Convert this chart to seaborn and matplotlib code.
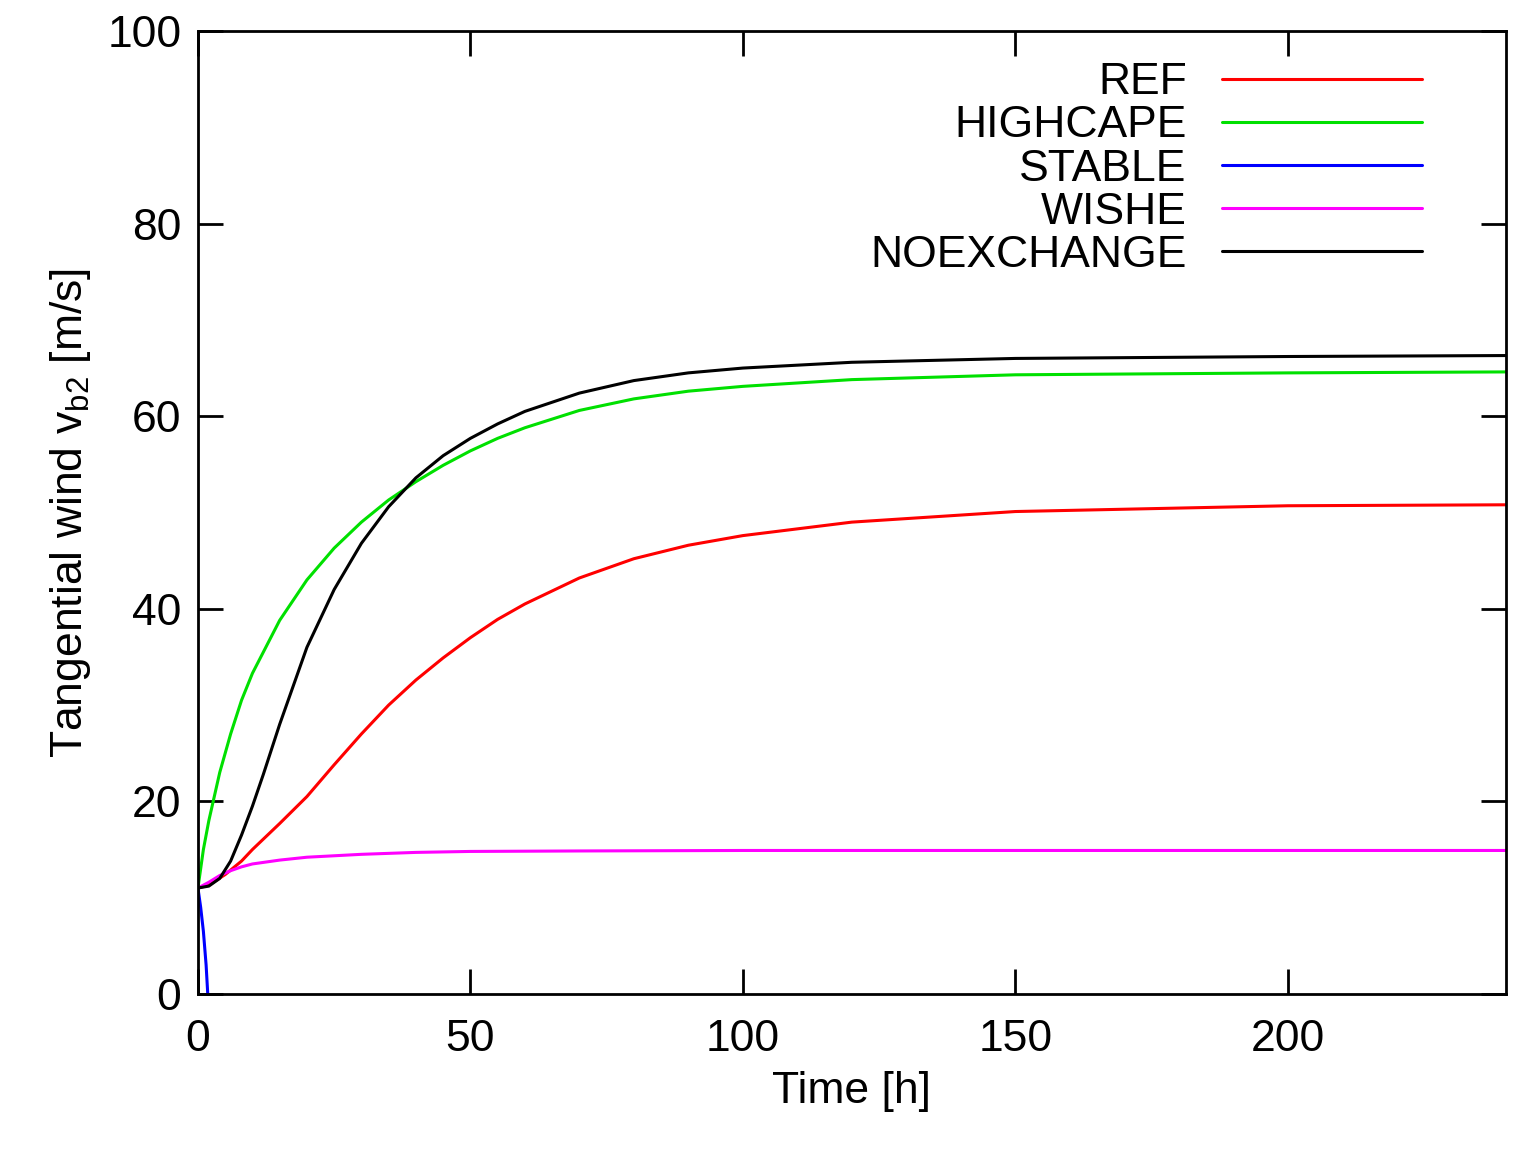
import matplotlib
matplotlib.use("Agg")
import matplotlib.pyplot as plt
import seaborn as sns
import pandas as pd

ref_t = [0, 2, 5, 8, 10, 15, 20, 25, 30, 35, 40, 45, 50, 55, 60, 70, 80, 90, 100, 120, 150, 200, 240]
ref_v = [11, 11.3, 12.4, 13.8, 15, 17.7, 20.5, 23.8, 27, 30, 32.6, 34.9, 37, 38.9, 40.5, 43.2, 45.2, 46.6, 47.6, 49, 50.1, 50.7, 50.8]
hc_t = [0, 1, 2, 4, 6, 8, 10, 15, 20, 25, 30, 35, 40, 45, 50, 55, 60, 70, 80, 90, 100, 120, 150, 200, 240]
hc_v = [11, 15, 18, 23, 27, 30.5, 33.3, 38.8, 43, 46.3, 49, 51.3, 53.2, 54.9, 56.4, 57.7, 58.8, 60.6, 61.8, 62.6, 63.1, 63.8, 64.3, 64.5, 64.6]
st_t = [0, 0.5, 1, 1.5, 1.8]
st_v = [11, 9, 6.5, 3, 0]
wi_t = [0, 2, 4, 6, 8, 10, 15, 20, 30, 40, 50, 70, 100, 240]
wi_v = [11, 11.6, 12.3, 12.8, 13.2, 13.5, 13.9, 14.2, 14.5, 14.7, 14.8, 14.85, 14.9, 14.9]
ne_t = [0, 2, 4, 6, 8, 10, 12, 15, 20, 25, 30, 35, 40, 45, 50, 55, 60, 70, 80, 90, 100, 120, 150, 200, 240]
ne_v = [11, 11.2, 12, 13.8, 16.5, 19.5, 22.8, 28, 36, 42, 46.8, 50.6, 53.6, 55.9, 57.7, 59.2, 60.5, 62.4, 63.7, 64.5, 65, 65.6, 66, 66.2, 66.3]

series = [("REF", ref_t, ref_v, "#ff0000"), ("HIGHCAPE", hc_t, hc_v, "#00e000"),
          ("STABLE", st_t, st_v, "#0000ff"), ("WISHE", wi_t, wi_v, "#ff00ff"),
          ("NOEXCHANGE", ne_t, ne_v, "#000000")]

sns.set_style("ticks")
plt.rcParams['font.family'] = ['Liberation Sans', 'DejaVu Sans']
plt.rcParams['text.color'] = 'black'
plt.rcParams['axes.labelcolor'] = 'black'
plt.rcParams['xtick.color'] = 'black'
plt.rcParams['ytick.color'] = 'black'
plt.rcParams['axes.edgecolor'] = 'black'
fig = plt.figure(figsize=(15.38, 11.5), dpi=100)
ax = fig.add_axes([0.1287, 0.1357, 0.979 - 0.1287, 0.973 - 0.1357])
for name, t, v, c in series:
    df = pd.DataFrame({"t": t, "v": v})
    sns.lineplot(data=df, x="t", y="v", ax=ax, color=c, lw=2.2, label=name)
ax.set_xlim(0, 240)
ax.set_ylim(0, 100)
ax.set_xticks([0, 50, 100, 150, 200])
ax.set_yticks([0, 20, 40, 60, 80, 100])
ax.tick_params(direction="in", length=18, width=2, labelsize=32, top=True, right=True)
ax.tick_params(axis="x", pad=18)
ax.tick_params(axis="y", pad=12)
for s in ax.spines.values():
    s.set_linewidth(2)
ax.set_xlabel("Time [h]", fontsize=32, labelpad=8)
ax.set_ylabel("Tangential wind v$_{\\mathregular{b2}}$ [m/s]", fontsize=32, labelpad=10)
leg = ax.legend(loc="upper right", frameon=False, markerfirst=False, fontsize=32,
                handlelength=4.5, labelspacing=0.05, borderaxespad=0.3,
                bbox_to_anchor=(0.96, 1.0))
fig.savefig("out.png", dpi=100)
